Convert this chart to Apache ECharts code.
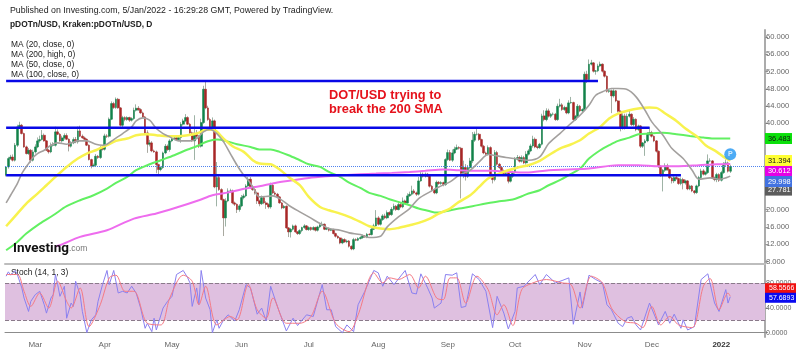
<!DOCTYPE html>
<html>
<head>
<meta charset="utf-8">
<title>DOT/USD</title>
<style>
  html, body { margin: 0; padding: 0; background: #fff; }
  #main { width: 800px; height: 352px; filter: blur(0.4px); }
</style>
<script src="https://cdn.jsdelivr.net/npm/echarts@6/dist/echarts.min.js"></script>
</head>
<body>
<div id="main"></div>
<script>
// daily candles from 16 Feb 2021
const firstOpen = 28.0
const closes = [
  29.91,31.84,32.2,31.46,34.93,39.17,39.56,37.63,34.54,33.0,
  33.77,31.46,33.39,34.54,35.93,36.24,37.24,35.93,33.77,33.39,
  34.93,34.93,38.02,37.47,35.93,36.63,37.17,36.32,34.7,35.47,
  36.24,35.7,38.25,37.01,36.63,36.32,34.93,31.61,30.07,30.3,
  32.38,32.07,34.31,34.0,37.09,37.0,40.95,44.57,43.65,45.58,
  43.57,39.56,41.33,40.87,41.33,40.72,41.1,43.03,43.49,43.18,
  42.41,41.49,37.78,35.16,35.47,33.62,33.39,30.45,29.3,29.76,
  33.15,34.7,33.93,35.93,36.47,36.63,36.24,36.7,39.79,40.56,
  41.33,39.79,37.78,35.93,37.47,37.0,34.7,40.18,47.89,43.57,
  40.87,39.02,40.56,25.28,27.44,24.67,22.35,18.11,22.04,24.36,
  24.36,21.58,21.27,20.04,20.89,22.81,23.2,25.51,27.06,25.13,
  24.67,23.9,22.04,21.4,22.8,21.58,21.2,20.65,25.67,23.9,
  23.59,22.97,21.58,20.42,20.81,15.79,14.87,15.48,16.26,14.87,
  14.48,15.18,15.87,16.26,15.41,15.87,15.41,15.87,15.25,16.02,
  16.49,16.64,15.48,15.71,15.25,15.41,14.48,13.86,13.48,12.32,
  13.09,12.55,12.78,11.55,10.93,13.09,12.94,13.32,13.56,13.94,
  13.71,14.33,14.25,15.48,16.26,18.11,16.64,17.72,18.57,18.11,
  19.34,18.88,20.11,20.81,20.04,21.19,20.65,22.04,21.58,23.2,
  23.59,24.36,23.9,23.59,26.67,28.22,27.75,28.22,27.75,25.44,
  24.67,23.9,26.36,26.06,26.29,25.82,31.61,33.23,31.46,33.15,
  34.0,34.39,34.24,27.91,29.76,27.75,29.76,31.3,36.09,37.47,
  37.47,36.24,34.7,33.15,32.85,34.39,28.14,26.98,33.23,30.53,
  29.76,29.0,28.37,28.52,26.6,27.75,28.6,31.69,32.07,31.23,
  32.07,30.84,32.85,33.62,34.77,36.32,34.54,34.39,35.16,41.72,
  40.87,42.88,41.64,42.11,42.11,40.87,43.96,44.27,43.19,43.65,
  42.41,44.73,44.81,40.87,41.64,43.96,42.88,43.19,51.36,50.13,
  53.68,53.99,52.06,52.14,53.29,53.68,52.06,50.9,47.43,47.51,
  46.35,47.51,45.19,42.8,38.94,41.72,39.17,41.64,42.11,39.71,
  40.95,38.56,39.4,34.7,35.47,35.93,37.47,37.86,37.01,35.93,
  33.54,30.07,28.14,29.14,30.15,29.3,27.37,26.67,27.44,27.21,
  26.06,26.98,26.21,26.67,24.82,25.51,24.36,23.97,25.51,27.44,
  28.99,28.22,28.6,31.3,31.3,27.37,26.98,28.14,26.83,28.6,
  30.53,30.84,28.91,29.99
]
const wickUp = [
  .2,.4,.5,.6,.5,.5,.8,.3,.2,.3, .5,.3,.5,.6,.8,.9,1.2,.4,.2,.3,
  .6,.7,1.2,.6,.3,.5,.5,.5,.2,.4, .5,.6,1.0,1.2,.4,.3,.2,.2,.2,.4,
  .5,.3,.4,.5,.5,.4,.4,.5,.4,.4, .3,.2,.4,.3,.3,.2,.3,.6,.9,.5,
  .3,.3,.2,.6,.7,.4,.3,.3,.2,.3, .3,.5,.4,.4,.5,.3,.4,.3,.5,.5,
  .8,.3,.3,.3,4.4,1.0,.3,.9,.8,1.7, .5,.4,.8,.3,3.6,.4,.3,.2,.6,.6,
  .5,.3,.3,.2,.4,.6,.5,.4,.5,.5, .5,.3,.3,.3,.5,.3,.4,.3,.6,.3,
  .4,.3,.2,.2,.3,.2,.2,.3,.3,.3, .2,.3,.2,.4,.2,.3,.2,.3,.2,.3,
  .5,.6,.2,.2,.2,.2,.2,.2,.2,.2, .3,.3,.3,.2,.2,.4,.3,.3,.3,.3,
  .2,.3,.2,.4,.5,1.8,.4,.3,.4,.5, .5,.3,.5,.6,.3,.5,.4,.8,.3,.6,
  .6,1.2,.4,.3,.9,.5,.4,.4,.3,.2, .3,.2,.4,.3,.3,.2,.3,.7,.6,.8,
  .6,.7,.3,.3,1.6,.8,.6,.7,1.9,.6, 1.3,.3,.2,.3,.3,.5,.3,.2,.6,.4,
  .3,.3,.3,.3,.2,.4,.4,.5,.6,.4, .5,.4,.7,.4,.5,.8,.4,.3,.3,.5,
  1.3,.6,.5,.3,.4,.3,.6,1.4,.4,.4, .2,.6,1.3,.2,.3,.5,.3,.3,.6,.8,
  1.1,.7,.2,.2,.5,.6,.2,.2,.2,.4, .3,.4,.2,.2,.2,.6,.5,.6,.8,.2,
  .5,.2,.3,.2,.2,.4,.5,1.3,.4,.2, .2,.2,.2,.3,.6,.5,.2,.2,.3,.4,
  .2,.5,.4,.3,.2,.3,.2,.2,.3,.4, .5,.4,.3,1.5,.6,.2,.3,.4,.3,.4,
  .5,.8,.3,.4
]
const wickDown = [
  .3,.4,.3,.3,.3,.4,.3,.2,.2,.2, .3,.6,.3,.4,.3,.4,.2,.2,.2,.4,
  .3,.3,.3,.2,.2,.4,.4,.2,1.2,.3, .3,.3,.4,.2,.2,.3,.2,.2,.5,.2,
  .3,.3,.3,.3,.3,.4,.3,.2,.3,.3, .2,.3,.4,.4,.3,.4,.3,.3,.3,.3,
  .2,.2,.2,2.0,.5,.3,.2,2.0,1.1,.4, .3,.3,.3,.5,.3,.3,.3,.3,1.2,.3,
  .3,.2,.2,.2,4.4,.4,.4,.3,.3,.3, .3,.3,.3,.3,4.5,.3,.2,4.2,2.0,.3,
  .3,.3,.4,.8,.5,.3,.4,.3,.3,.3, .3,.4,.7,.6,.3,.3,1.0,.4,.4,.3,
  .3,.3,.2,.3,.2,.2,1.2,1.3,.3,.2, .3,.3,.4,.3,.2,.3,.3,.2,.3,.3,
  .3,.3,.2,.2,.3,.2,.2,.3,.2,.3, .3,.2,.3,.3,.3,.3,.2,.2,.2,.3,
  .2,.3,.2,.2,.2,.2,.3,.3,.3,.3, .3,.3,.3,.3,.3,.2,.3,.3,.3,.3,
  .2,.3,.3,.4,.3,.2,.3,.3,.2,.3, .4,.3,.3,.3,.3,.4,.3,.3,.2,.4,
  .3,.2,.3,5.3,.6,1.0,.4,.4,.5,.4, .3,.3,.3,.3,.3,.3,.4,.9,.4,.3,
  .3,.3,.3,.3,.5,.3,.4,.3,.3,.3, .3,.3,.4,.3,.3,.4,.3,.4,.3,.3,
  .4,.4,.3,.4,.3,.3,.3,.3,.3,.3, .3,.3,.2,.3,.3,.3,.3,.3,.3,.8,
  .3,.3,.3,.8,.3,.3,.3,.3,.3,.4, 4.0,.4,.3,.3,.8,.4,.6,.4,.3,.3,
  .4,.4,.3,.4,.4,3.0,.3,.3,.3,.3, .3,.4,.5,3.9,.4,.3,.3,.6,.5,.3,
  .3,.4,1.5,.4,.3,.3,.3,.4,.3,.3, .3,.3,.3,.3,.3,.3,.4,.6,.4,.3,
  .3,.4,.3,.4
]

// moving averages, read at these candle positions
const ma20Idx = [0,2,5,7,10,12,14,17,20,23,27,32,36,40,43,45,48,52,56,58,61,64,67,70,73,77,82,85,88,91,94,97,100,103,106,108,110,113,119,122,126,131,135,140,144,149,153,158,162,167,170,175,180,184,189,193,198,202,207,211,215,219,223,227,233,238,242,247,251,256,260,263,267,270,273,277,281,285,288,293,297,302,306,309,314,318,321,323]
const ma20Val = [21.58,23.35,26.05,28.37,30.68,32.07,33.0,33.77,34.93,35.47,35.16,35.93,35.93,35.16,34.93,35.16,36.24,37.63,39.17,40.56,41.26,40.72,38.79,37.63,36.86,35.93,35.93,36.47,38.02,38.56,37.63,35.7,33.0,30.3,27.98,26.83,25.28,22.97,23.2,22.58,21.04,19.5,18.34,16.8,15.64,15.25,14.64,14.25,13.56,13.86,16.03,18.34,20.27,22.58,24.13,25.28,26.44,27.98,29.14,31.07,32.77,32.46,32.07,31.84,31.46,32.23,35.31,37.63,39.56,41.87,44.19,46.5,47.51,48.05,48.05,47.82,46.12,43.03,40.33,37.24,34.16,31.84,29.14,27.06,27.37,27.06,27.37,27.78]
const ma50Idx = [0,5,9,14,18,22,27,32,36,40,45,49,54,58,63,67,72,76,81,85,90,93,97,101,106,110,113,118,122,126,131,135,140,144,149,153,158,162,167,171,175,180,184,189,193,198,202,207,211,215,220,224,229,233,238,242,247,251,256,260,265,269,273,278,282,287,290,294,299,303,308,312,317,320,323]
const ma50Val = [16.18,19.11,21.43,23.74,25.67,27.6,29.91,31.84,33.0,33.77,34.93,35.93,36.47,37.24,37.47,37.24,37.0,37.0,37.24,37.63,38.56,38.4,36.47,34.7,33.39,31.46,30.69,30.53,29.3,27.6,25.67,22.97,20.65,19.88,19.11,18.34,17.18,16.18,15.64,15.48,15.79,16.41,16.95,17.95,19.11,20.27,21.81,23.36,25.28,27.21,28.37,29.14,29.91,30.3,31.3,32.61,34.16,34.93,36.09,37.63,39.17,41.1,42.26,43.03,43.42,43.65,43.57,42.26,40.56,38.79,37.01,34.93,33.39,32.23,31.39]
const ma100Idx = [0,5,9,15,21,27,33,39,45,49,54,58,63,69,75,81,85,90,94,98,103,109,113,118,122,126,131,135,140,144,149,153,158,162,167,171,175,180,184,189,192,196,202,208,214,220,226,230,233,238,242,247,251,256,260,265,269,273,278,282,287,293,299,305,311,317,321,323]
const ma100Val = [10.62,12.55,14.48,16.8,18.72,20.81,22.2,23.35,24.9,26.21,27.6,29.14,30.3,31.46,32.62,33.93,34.7,35.86,36.24,35.93,35.16,34.54,33.93,33.93,33.39,32.61,31.46,30.53,29.91,28.76,27.6,26.29,25.05,23.9,23.2,22.43,21.81,21.04,20.27,19.65,19.34,19.65,20.27,20.81,21.43,21.97,22.35,23.12,23.74,24.51,25.67,26.83,27.99,29.53,31.84,33.77,34.93,35.93,36.7,37.47,37.63,37.79,37.47,37.09,36.7,36.47,36.47,36.48]
const ma200Idx = [22,24,33,45,57,67,76,86,92,98,107,113,120,128,135,143,150,158,165,172,180,187,195,202,210,217,224,232,242,251,260,269,273,282,291,300,309,317,323]
const ma200Val = [11.5,11.78,13.71,15.25,17.95,19.11,20.5,22.2,23.35,23.9,24.9,25.44,26.21,26.83,27.37,27.75,28.0,28.22,28.37,28.53,28.76,29.0,29.3,29.14,29.0,29.0,28.76,28.6,29.14,29.3,29.53,30.15,30.3,30.3,30.07,30.07,30.3,30.53,30.61]

// stochastic %K and %D
const stochKIdx = [0,1,2,4,5,7,8,10,11,13,15,17,18,20,21,22,23,24,26,27,29,30,31,33,34,36,38,40,41,43,45,46,48,50,52,54,56,58,60,62,63,65,66,67,70,72,74,76,79,81,82,83,85,86,87,89,91,92,94,95,97,99,102,104,107,109,112,114,116,118,121,124,125,128,130,134,137,141,143,145,147,150,152,155,157,160,164,166,168,170,173,178,181,183,185,188,190,191,194,196,199,201,203,205,208,211,214,217,219,222,224,227,228,231,236,238,241,245,248,251,253,256,257,260,263,266,268,270,273,275,277,279,281,283,287,291,294,296,298,301,302,304,307,310,313,316,318,321,322,323]
const stochKVal = [90.8,97.8,92.4,100,93.5,71.9,55.7,34.1,50.3,61.1,66.5,44.9,31.4,55.7,61.1,93.5,77.3,58.4,74.6,23.2,47.6,42.2,82.7,61.1,34.1,0,20.5,28.7,50.3,77.3,100,77.3,100,63.8,66.5,63.8,74.6,63.8,39.5,7,15.1,1.6,23.2,4.3,39.5,50.3,58.4,93.5,100,88.1,80,42.2,71.9,44.9,100,55.7,36.8,0,20.5,7,20.5,28.7,18.9,36.8,77.3,71.9,29.7,39.5,18.9,74.6,42.2,12.4,2.7,23.2,11.4,28.7,26,77.3,36.8,36.8,9.7,0,12.4,1.6,44.9,66.5,100,96.2,74.6,90.8,77.3,100,63.8,62.2,94.6,71.9,55.7,39.5,47.6,93.5,92.4,96.2,40.5,42.2,94.6,85.4,66.5,8.1,58.4,31.4,6,34.1,71.9,74.6,93.5,77.3,93.5,80,83.8,88.1,13.5,65.4,39.5,92.4,85.4,80,44.9,36.8,15.1,9.7,23.2,26,12.4,4.3,47.6,12.4,34.1,15.1,29.7,7,20.5,4.3,9.7,85.4,94.6,47.6,34.1,69.2,47.6,57.69]
const stochDIdx = [0,5,8,11,15,19,23,27,29,33,37,42,46,49,53,57,63,69,73,79,83,86,89,94,100,103,108,112,116,119,125,131,136,141,147,153,157,164,168,171,175,180,184,187,192,195,198,201,205,210,215,219,222,226,230,235,241,248,252,256,261,266,270,276,281,284,288,292,296,300,306,311,314,318,322,323]
const stochDVal = [93.5,93.5,66.5,42.2,63.8,39.5,82.7,50.3,39.5,71.9,9.7,44.9,88.1,92.4,66.5,66.5,15.1,12.4,55.7,92.4,82.7,44.9,74.6,12.4,26,20.5,77.3,36.8,23.2,55.7,15.1,15.1,26,66.5,15.1,1.6,28.7,96.2,80,88.1,85.4,93.5,71.9,90.8,55.7,53,88.1,88.1,47.6,90.8,69.2,28.7,44.9,11.4,69.2,80,85.4,80,77.3,39.5,90.8,80,39.5,17.8,15.1,8.1,42.2,12.4,26,12.4,8.1,74.6,87,36.8,63.8,58.56]

// support / resistance levels: [first candle, last candle, price]
const levelA = [0, 264, 49.8]
const levelB = [0, 287, 39.0]
const levelC = [0, 301, 28.0]

const tickIdx = [13, 44, 74, 105, 135, 166, 197, 227, 258, 288, 319]
const tickLabels = ['Mar', 'Apr', 'May', 'Jun', 'Jul', 'Aug', 'Sep', 'Oct', 'Nov', 'Dec', '{b|2022}']
const priceTicks = [8, 12, 16, 20, 40, 44, 48, 52, 56, 60]
const stochTicks = [0, 40, 80]
const lastPrice = 29.998
const markerPoint = [323, 32.85]

const dates = []
for (let i = 0; i < 339; i++) {
  dates.push(new Date(Date.UTC(2021, 1, 16 + i)).toISOString().slice(0, 10))
}

const fontName = '"Liberation Sans", Arial, sans-serif'

const opens = closes.map((c, i) => (i === 0 ? firstOpen : closes[i - 1]))
const candles = closes.map((c, i) => {
  const top = Math.max(opens[i], c)
  const bottom = Math.min(opens[i], c)
  return [opens[i], c, bottom - wickDown[i], top + wickUp[i]]
})
const bodies = closes.map((c, i) => [opens[i], c, Math.min(opens[i], c), Math.max(opens[i], c)])

// values only at the read positions, the line connects them
function sparse(idx, val) {
  const out = new Array(idx[idx.length - 1] + 1).fill(null)
  idx.forEach((p, i) => { out[p] = val[i] })
  return out
}

function levelSeries(level) {
  const out = new Array(level[1] + 1).fill(null)
  out[level[0]] = level[2]
  out[level[1]] = level[2]
  return {
    type: 'line', data: out, connectNulls: true, showSymbol: false, silent: true, z: 6,
    lineStyle: { color: '#0808e6', width: 2.5 }
  }
}

function priceTag(value, text, bg, fg, dy) {
  return {
    yAxis: value,
    lineStyle: { color: 'transparent' },
    label: {
      show: true, position: 'end', distance: 0, offset: [0, dy], formatter: text,
      backgroundColor: bg, color: fg, fontFamily: fontName, fontSize: 7.4,
      width: 24, height: 11, lineHeight: 11, padding: [0, 0, 0, 3], align: 'left'
    }
  }
}

function stochTag(value, text, bg, dy) {
  return {
    yAxis: value,
    lineStyle: { color: 'transparent' },
    label: {
      show: true, position: 'end', distance: 0, offset: [0, dy], formatter: text,
      backgroundColor: bg, color: '#fff', fontFamily: fontName, fontSize: 7,
      width: 27, height: 10, lineHeight: 10, padding: [0, 0, 0, 4], align: 'left'
    }
  }
}

function maSeries(idx, val, color, width, tag) {
  return {
    type: 'line', data: sparse(idx, val), connectNulls: true, showSymbol: false,
    smooth: 0.3, silent: true, z: 5, lineStyle: { color: color, width: width },
    markLine: { silent: true, symbol: 'none', animation: false, data: [tag] }
  }
}

function headText(x, y, text, weight, size) {
  return {
    type: 'text', left: x, top: y, silent: true,
    style: { text: text, fontFamily: fontName, fontSize: size || 8.4, fontWeight: weight || 'normal', fill: '#222' }
  }
}

const chart = echarts.init(document.getElementById('main'))

chart.setOption({
  animation: false,
  backgroundColor: '#fff',
  grid: [
    { left: 5, right: 35, top: 30, height: 233.3 },
    { left: 5, right: 35, top: 263, height: 74 }
  ],
  xAxis: [
    {
      type: 'category', gridIndex: 0, data: dates, boundaryGap: true,
      axisLine: { lineStyle: { color: '#bdbdbd', width: 2 } },
      axisTick: { show: false }, axisLabel: { show: false }, splitLine: { show: false }
    },
    {
      type: 'category', gridIndex: 1, data: dates, boundaryGap: true,
      axisLine: { lineStyle: { color: '#8c8c8c', width: 1 } },
      axisTick: { alignWithLabel: true, length: 3, lineStyle: { color: '#999' }, interval: (i) => tickIdx.includes(i) },
      splitLine: { show: false },
      axisLabel: {
        interval: (i) => tickIdx.includes(i),
        formatter: (v, i) => tickLabels[tickIdx.indexOf(i)] || '',
        color: '#666', fontFamily: fontName, fontSize: 8, margin: 4,
        rich: { b: { color: '#333', fontWeight: 'bold', fontFamily: fontName, fontSize: 8 } }
      }
    }
  ],
  yAxis: [
    {
      type: 'value', gridIndex: 0, position: 'right', min: 7.6, max: 61.6, scale: true,
      axisLine: { show: true, lineStyle: { color: '#ababab', width: 2 } },
      axisTick: { show: true, length: 3, customValues: priceTicks, lineStyle: { color: '#999' } },
      splitLine: { show: false },
      axisLabel: {
        customValues: priceTicks, formatter: (v) => v.toFixed(3),
        color: '#666', fontFamily: fontName, fontSize: 7.6, margin: 1
      }
    },
    {
      type: 'value', gridIndex: 1, position: 'right', min: -7, max: 112, scale: true,
      axisLine: { show: true, lineStyle: { color: '#ababab', width: 2 } },
      axisTick: { show: true, length: 3, customValues: stochTicks, lineStyle: { color: '#999' } },
      splitLine: { show: false },
      axisLabel: {
        customValues: stochTicks, formatter: (v) => v.toFixed(4),
        color: '#666', fontFamily: fontName, fontSize: 7, margin: 1
      }
    }
  ],
  graphic: [
    headText(10, 6, 'Published on Investing.com, 5/Jan/2022 - 16:29:28 GMT, Powered by TradingView.', 'normal', 8.8),
    headText(10, 21, 'pDOTn/USD, Kraken:pDOTn/USD, D', 'bold'),
    headText(11, 41, 'MA (20, close, 0)'),
    headText(11, 51, 'MA (200, high, 0)'),
    headText(11, 61, 'MA (50, close, 0)'),
    headText(11, 71, 'MA (100, close, 0)'),
    headText(11, 269, 'Stoch (14, 1, 3)'),
    {
      type: 'text', left: 329, top: 88, silent: true,
      style: {
        text: 'DOT/USD trying to\nbreak the 200 SMA', fontFamily: fontName, fontSize: 12.8,
        fontWeight: 'bold', lineHeight: 14.5, fill: '#e5121c'
      }
    },
    {
      type: 'text', left: 13, top: 242, silent: true, z: 20,
      style: {
        rich: {
          a: { fontFamily: 'Roboto, ' + fontName, fontSize: 13.5, fontWeight: 'bold', fill: '#111' },
          b: { fontFamily: fontName, fontSize: 8.5, fill: '#777' }
        },
        text: '{a|Investing}{b|.com}'
      }
    }
  ],
  series: [
    // wicks first, bodies drawn over them in a darker colour
    {
      type: 'candlestick', data: candles, barWidth: 1, silent: true, z: 2,
      itemStyle: { color: '#9fb3a6', color0: '#a9a9a0', borderColor: '#9fb3a6', borderColor0: '#a9a9a0', borderWidth: 1 }
    },
    {
      type: 'candlestick', data: bodies, barWidth: 2.2, silent: true, z: 3,
      itemStyle: { color: '#12824a', color0: '#a82626', borderColor: '#12824a', borderColor0: '#a82626', borderWidth: 0.5 },
      markLine: {
        silent: true, symbol: 'none', animation: false, z: 4,
        data: [{ yAxis: lastPrice, label: { show: false }, lineStyle: { color: '#4f83ee', type: 'dotted', width: 1 } }]
      }
    },
    maSeries(ma100Idx, ma100Val, '#62f062', 2, priceTag(36.483, '36.483', '#0be00b', '#111', 0)),
    maSeries(ma200Idx, ma200Val, '#ee6cee', 2, priceTag(30.612, '30.612', '#e600e6', '#fff', 7)),
    maSeries(ma50Idx, ma50Val, '#f8f24e', 2.5, priceTag(31.394, '31.394', '#ffff33', '#111', 0)),
    maSeries(ma20Idx, ma20Val, '#a3a09e', 1.6, priceTag(27.781, '27.781', '#5c5c5c', '#fff', 14)),
    levelSeries(levelA),
    levelSeries(levelB),
    levelSeries(levelC),
    {
      // last price tag
      type: 'line', data: [], silent: true,
      markLine: { silent: true, symbol: 'none', animation: false, data: [priceTag(lastPrice, '29.998', '#4272e0', '#fff', 15)] }
    },
    {
      type: 'scatter', data: [markerPoint], symbolSize: 12, silent: true, z: 7,
      itemStyle: { color: '#2196f3' },
      label: { show: true, position: 'inside', formatter: 'P', color: '#fff', fontFamily: fontName, fontSize: 7, fontWeight: 'bold' }
    },
    {
      type: 'line', xAxisIndex: 1, yAxisIndex: 1, data: sparse(stochKIdx, stochKVal),
      connectNulls: true, showSymbol: false, silent: true, z: 4,
      lineStyle: { color: '#8a80f0', width: 1 },
      markArea: {
        silent: true, animation: false, z: 1,
        itemStyle: { color: '#dfc0e0', opacity: 1 },
        data: [[{ yAxis: 80 }, { yAxis: 20 }]]
      },
      markLine: {
        silent: true, symbol: 'none', animation: false, z: 2,
        data: [
          { yAxis: 80, label: { show: false }, lineStyle: { color: '#8a7a8a', type: 'dashed', width: 1 } },
          { yAxis: 20, label: { show: false }, lineStyle: { color: '#8a7a8a', type: 'dashed', width: 1 } }
        ]
      }
    },
    {
      type: 'line', xAxisIndex: 1, yAxisIndex: 1, data: sparse(stochDIdx, stochDVal),
      connectNulls: true, showSymbol: false, smooth: 0.3, silent: true, z: 5,
      lineStyle: { color: '#f57a85', width: 1 },
      markLine: {
        silent: true, symbol: 'none', animation: false,
        data: [stochTag(58.5566, '58.5566', '#f01010', -8), stochTag(57.6893, '57.6893', '#0a0af0', 1)]
      }
    }
  ]
})
</script>
</body>
</html>
